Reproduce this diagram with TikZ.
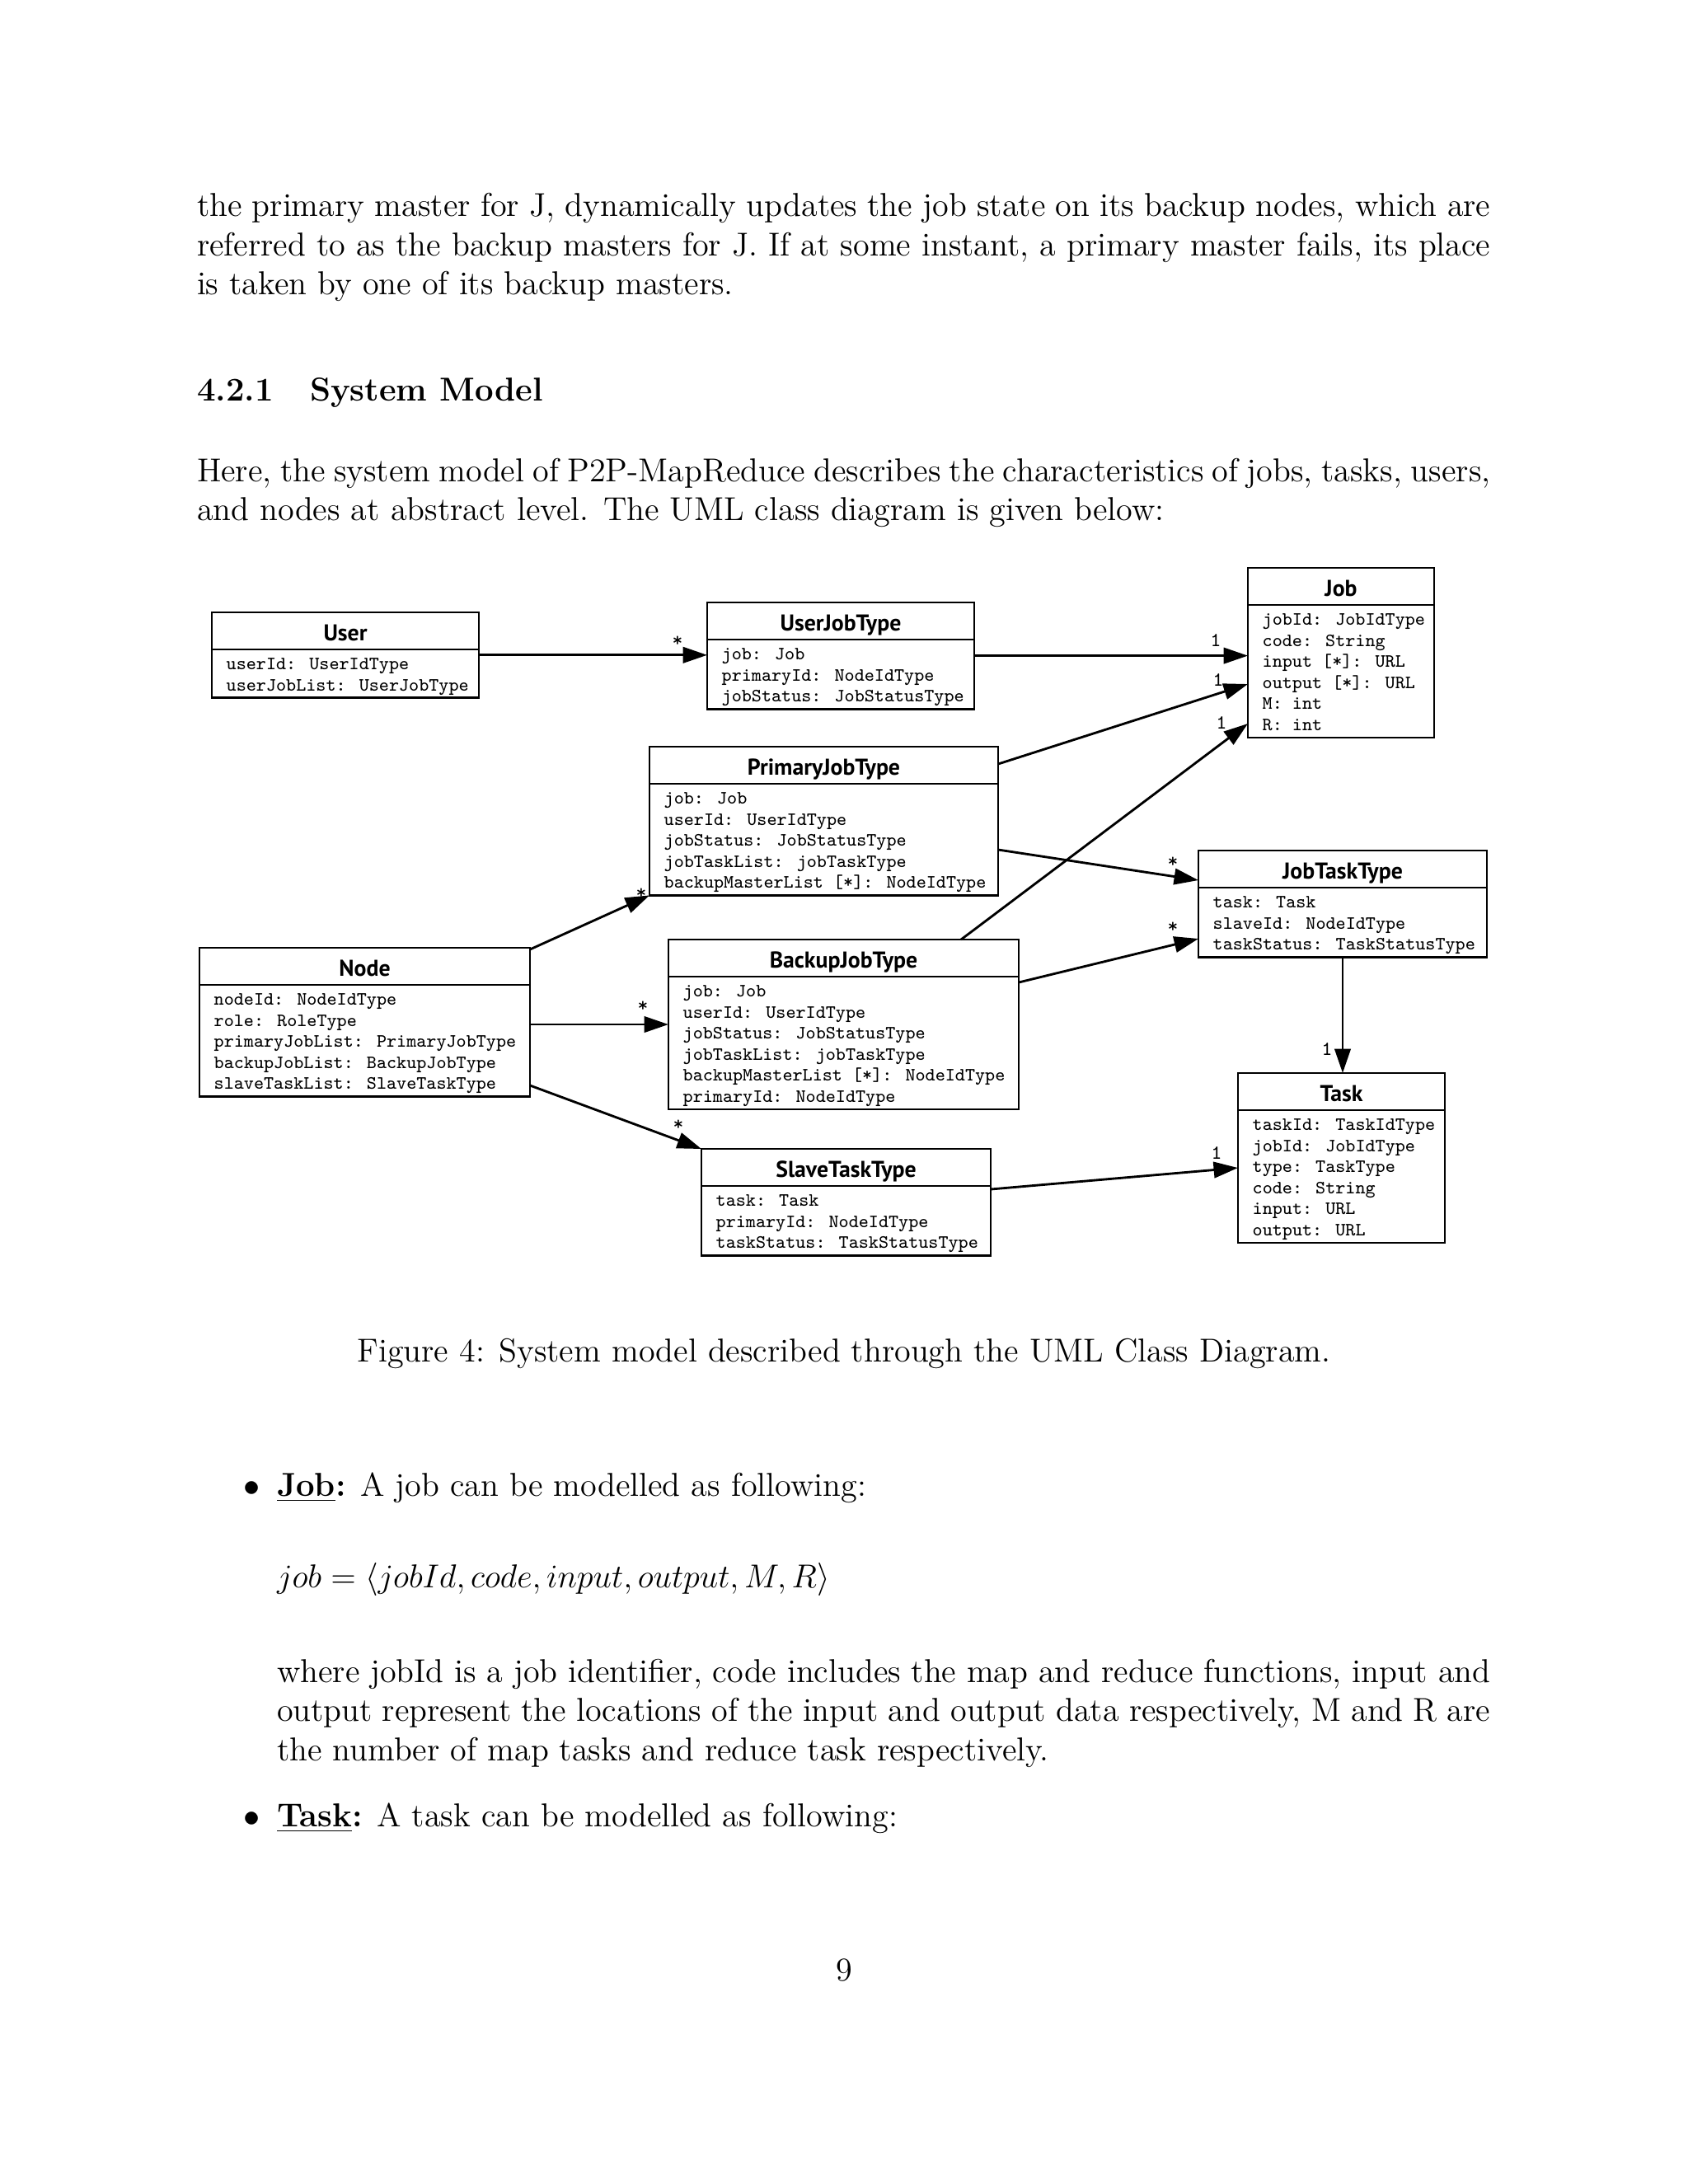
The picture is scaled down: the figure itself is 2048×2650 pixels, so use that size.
\documentclass[tikz,border=0pt]{standalone}
\usepackage{fontspec}
\newfontfamily\umltitlefont{PT Sans}
\usetikzlibrary{calc,arrows.meta}

% name, left x, right x, top y, number of attributes, title, attributes
\newcommand\umlclass[7]{%
  \pgfmathsetmacro\umlw{(#3-#2)*0.29883}%
  \pgfmathsetmacro\umlh{(78+25.6*(#5-1))*0.29883}%
  \pgfmathsetmacro\umlcy{#4+(78+25.6*(#5-1))/2}%
  \node[umlbox, minimum width=\umlw pt, minimum height=\umlh pt] (#1) at ({(#2+#3)/2},\umlcy) {};
  \draw[umlline] ($(#1.north west)+(0,45)$) -- ($(#1.north east)+(0,45)$);
  \node[umltitle] (#1-title) at ({(#2+#3)/2},{#4+34}) {#6};
  \foreach \a [count=\i from 0] in {#7} {
    \node[umlattr] (#1-a\i) at ({#2+17},{#4+69.5+25.6*\i}) {\a};
  }%
}

\begin{document}
\begin{tikzpicture}[x=0.29883pt,y=-0.29883pt,
  txt/.style={anchor=base west,inner sep=0pt,outer sep=0pt,font=\fontsize{12}{14.5}\selectfont},
  ctxt/.style={anchor=base,inner sep=0pt,outer sep=0pt,font=\fontsize{12}{14.5}\selectfont},
  umlbox/.style={draw,line width=0.85pt,inner sep=0pt,outer sep=0pt,fill=white},
  umlline/.style={line width=0.85pt},
  umltitle/.style={anchor=base,inner sep=0pt,font=\umltitlefont\bfseries\fontsize{8.3}{10}\selectfont},
  umlattr/.style={anchor=base west,inner sep=0pt,font=\ttfamily\fontsize{6.8}{8}\selectfont},
  mult/.style={inner sep=0pt,font=\ttfamily\fontsize{7.2}{8}\selectfont},
  assoc/.style={line width=0.85pt,-{Triangle[length=8.8pt,width=5.8pt]}}]

\fill[white] (0,0) rectangle (2048,2650);
\useasboundingbox (0,0) rectangle (2048,2650);

% ---------- text above the figure ----------
\node[txt] (p1a) at (239,262) {\hbox to 469pt{the primary master for J, dynamically updates the job state on its backup nodes, which are}};
\node[txt] (p1b) at (239,310) {\hbox to 469pt{referred to as the backup masters for J. If at some instant, a primary master fails, its place}};
\node[txt] (p1c) at (239,357.5) {is taken by one of its backup masters.};

\node[txt] (hnum) at (239,486.7) {\bfseries 4.2.1};
\node[txt] (htitle) at (376,486.7) {\bfseries System Model};

\node[txt] (p2a) at (239,584) {\hbox to 469pt{Here, the system model of P2P-MapReduce describes the characteristics of jobs, tasks, users,}};
\node[txt] (p2b) at (239,631.7) {and nodes at abstract level. The UML class diagram is given below:};

% ---------- UML classes ----------
\umlclass{user}{257}{581}{743}{2}{User}{userId: UserIdType, userJobList: UserJobType}
\umlclass{ujt}{858}{1182}{731}{3}{UserJobType}{job: Job, primaryId: NodeIdType, jobStatus: JobStatusType}
\umlclass{job}{1514}{1740}{689}{6}{Job}{jobId: JobIdType, code: String, {input [*]: URL}, {output [*]: URL}, M: int, R: int}
\umlclass{pjt}{788}{1211}{906}{5}{PrimaryJobType}{job: Job, userId: UserIdType, jobStatus: JobStatusType, jobTaskList: jobTaskType, {backupMasterList [*]: NodeIdType}}
\umlclass{jtt}{1454}{1804}{1032}{3}{JobTaskType}{task: Task, slaveId: NodeIdType, taskStatus: TaskStatusType}
\umlclass{nodecls}{242}{643}{1150}{5}{Node}{nodeId: NodeIdType, role: RoleType, primaryJobList: PrimaryJobType, backupJobList: BackupJobType, slaveTaskList: SlaveTaskType}
\umlclass{bjt}{811}{1236}{1140}{6}{BackupJobType}{job: Job, userId: UserIdType, jobStatus: JobStatusType, jobTaskList: jobTaskType, {backupMasterList [*]: NodeIdType}, primaryId: NodeIdType}
\umlclass{stt}{851}{1202}{1394}{3}{SlaveTaskType}{task: Task, primaryId: NodeIdType, taskStatus: TaskStatusType}
\umlclass{task}{1502}{1753}{1302}{6}{Task}{taskId: TaskIdType, jobId: JobIdType, type: TaskType, code: String, input: URL, output: URL}

% ---------- associations ----------
\draw[assoc] (user.east) -- (user.east -| ujt.west);
\draw[assoc] (ujt.east) -- (ujt.east -| job.west);
\draw[assoc] ($(pjt.north east)+(0,21)$) -- ($(job.north west)+(0,141)$);
\draw[assoc] ($(bjt.north west)+(355,0)$) -- ($(job.north west)+(0,189)$);
\draw[assoc] ($(pjt.north east)+(0,125)$) -- ($(jtt.north west)+(0,36)$);
\draw[assoc] ($(bjt.north east)+(0,52)$) -- ($(jtt.north west)+(0,107)$);
\draw[assoc] ($(jtt.south west)+(175,0)$) -- ($(task.north west)+(127,0)$);
\draw[assoc] ($(stt.north east)+(0,49)$) -- ($(task.north west)+(0,115)$);
\draw[assoc] ($(nodecls.north east)+(0,2)$) -- (pjt.south west);
\draw[assoc] ($(nodecls.north east)+(0,93)$) -- ($(bjt.north west)+(0,103)$);
\draw[assoc] ($(nodecls.north east)+(0,167)$) -- (stt.north west);

% ---------- multiplicities ----------
\node[mult] (m1) at (822,778) {*};
\node[mult] (m2) at (1475,777) {1};
\node[mult] (m3) at (1478,825) {1};
\node[mult] (m4) at (1482,877) {1};
\node[mult] (m5) at (1423,1046) {*};
\node[mult] (m6) at (1423,1125) {*};
\node[mult] (m7) at (1610,1273) {1};
\node[mult] (m8) at (1476,1399) {1};
\node[mult] (m9) at (778,1084) {*};
\node[mult] (m10) at (780,1221) {*};
\node[mult] (m11) at (823,1365) {*};

% ---------- caption ----------
\node[ctxt] (cap) at (1024,1652.7) {Figure 4: System model described through the UML Class Diagram.};

% ---------- bullets ----------
\node[anchor=base east,inner sep=0pt,font=\fontsize{12}{14.5}\selectfont] (b1) at (316,1815) {$\bullet$};
\node[txt] (i1) at (336,1815) {\textbf{\underline{Job}:} A job can be modelled as following:};
\node[txt] (eq) at (336,1926.7) {$job = \langle jobId, code, input, output, M, R\rangle$};
\node[txt] (w1) at (336,2041.7) {\hbox to 440pt{where jobId is a job identifier, code includes the map and reduce functions, input and}};
\node[txt] (w2) at (336,2088.8) {\hbox to 440pt{output represent the locations of the input and output data respectively, M and R are}};
\node[txt] (w3) at (336,2136.7) {the number of map tasks and reduce task respectively.};
\node[anchor=base east,inner sep=0pt,font=\fontsize{12}{14.5}\selectfont] (b2) at (316,2216.7) {$\bullet$};
\node[txt] (i2) at (336,2216.7) {\textbf{\underline{Task}:} A task can be modelled as following:};

% ---------- page number ----------
\node[ctxt] (pg) at (1024,2403) {9};
\end{tikzpicture}
\end{document}
